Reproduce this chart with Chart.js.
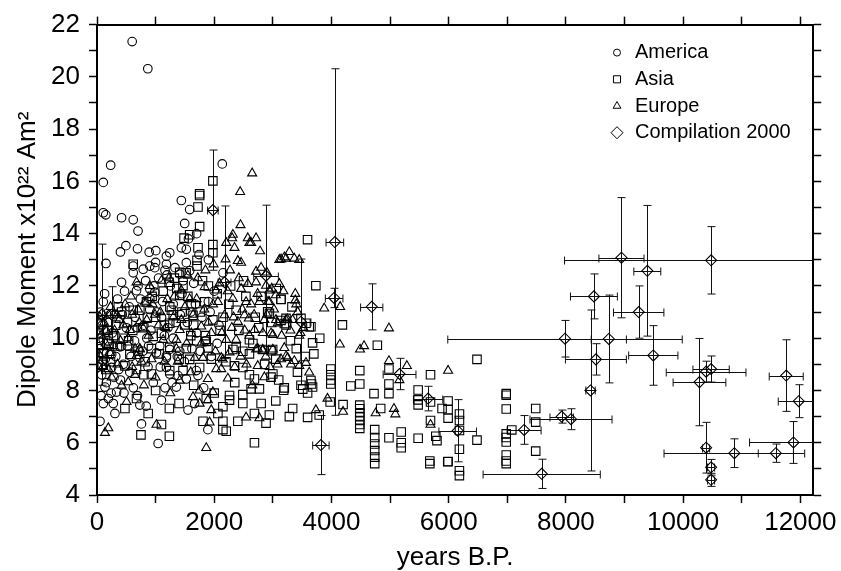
<!DOCTYPE html>
<html lang="en">
<head>
<meta charset="UTF-8">
<title>Dipole Moment</title>
<script src="https://cdn.jsdelivr.net/npm/chart.js"></script>
<style>
  body { margin: 0; background: #fff; }
  #wrap { width: 841px; height: 571px; }
</style>
</head>
<body>
<div id="wrap"><canvas id="chart"></canvas></div>
<script>
// values: [years B.P., dipole moment]
const america = [
  [600,21.35],[867,20.31],[233,16.62],[107,15.96],[2137,16.67],
  [107,14.8],[150,14.72],[419,14.61],[618,14.53],[1439,15.27],[1581,14.92],[1496,14.39],
  [493,13.54],[691,13.42],[890,13.29],[1003,13.35],[1241,13.27],[1439,13.46],[1524,13.4],[1184,13.14],
  [153,12.86],[618,12.76],[788,12.64],[901,12.76],[986,12.7],[618,12.5],[1184,12.83],[1195,12.42],
  [1524,12.89],[1581,12.58],[1411,12.45],[419,12.14],[674,11.82],[901,11.88],[986,11.76],[901,11.51],
  [986,11.51],[107,11.39],[107,10.32],[107,9.94],[419,9.69],[221,9.38],[731,9.25],[1014,9.44],
  [1241,9.57],[1411,9.5],[1184,9.25],[391,9.67],[250,9.38],[1184,9.32],[108,9.13],[250,8.88],
  [1184,8.88],[1241,8.63],[1382,8.57],[1524,8.44],[1694,8.76],[1723,8.57],[136,8.13],[334,7.94],
  [193,7.69],[278,7.5],[108,7.5],[306,7.12],[731,7.44],[1099,7.63],[1354,8.13],[1553,7.25],
  [1666,7.5],[1892,6.5],[1043,5.97],[759,6.72],[51,6.82],[448,9.0],
  [60,11.0],[200,10.6],[300,10.9],[500,10.4],[650,10.8],[800,10.5],[900,11.1],[1100,10.8],
  [1300,11.3],[1450,11.7],[1600,11.0],[1700,10.2],[850,10.0],[1150,10.1],[1350,10.6],[1650,12.1],
  [1900,11.4],[1250,12.0],[1050,12.3],[700,12.0],[350,11.5],[550,11.2],[30,10.0],[80,8.6],
  [160,8.3],[240,7.9],[400,8.4],[580,9.3],[620,8.1],[960,8.3],[1080,8.9],[1490,9.1],
  [1760,9.5],[1820,8.1],[2000,11.8],[2050,9.8],[880,9.7],[1300,10.0],[400,13.3],[700,14.1],
  [1000,12.9],[1560,13.8],[1700,14.0],[1900,13.0],[2150,12.5],[1950,9.3],
  [40,9.6],[90,10.5],[130,11.7],[180,9.9],[260,10.2],[320,9.3],[370,8.8],[430,10.9],
  [470,11.8],[520,9.7],[560,8.7],[640,9.9],[690,10.4],[740,11.5],[780,9.5],[830,12.2],
  [870,8.9],[920,10.3],[970,12.0],[1020,11.0],[1070,9.7],[1120,11.4],[1160,12.6],[1210,10.4],
  [1280,8.3],[1330,12.7],[1370,9.3],[1420,10.9],[1470,12.2],[1540,10.6],[1620,9.6],[1680,11.3],
  [1740,13.2],[1790,10.8],[1850,9.9],[1930,11.0],[2080,10.5],[20,8.9],[70,7.8],[140,9.2],
  [290,8.5],[460,7.9],[690,7.8],[840,7.4],[1160,8.1]
];

const asia = [
  [1751,15.53],[1977,16.02],[1751,15.46],[1723,15.02],[1751,14.27],[1581,13.96],[1485,13.83],[1723,13.46],
  [618,12.83],[1706,12.98],[1706,12.76],[1230,12.14],[1411,12.52],[1977,13.58],[1977,13.27],[3140,11.48],
  [363,11.2],[731,11.07],[844,11.39],[1269,11.07],[1609,11.32],[1836,11.39],[1411,11.64],[1467,12.01],
  [618,11.07],[1241,11.2],[1638,10.88],[2374,11.07],[2912,11.01],[1496,10.51],[1241,10.57],[958,10.07],
  [1099,10.19],[1977,10.7],[2601,9.94],[2827,9.57],[2997,9.57],[107,9.44],[561,9.38],[1864,9.88],
  [2318,9.57],[2488,9.5],[1581,9.19],[3225,10.76],[3225,10.51],
  [108,9.4],[929,9.6],[1241,9.65],[1524,9.6],[1892,9.63],[2374,9.65],[2601,9.4],[2969,9.52],
  [476,8.94],[674,8.8],[929,8.63],[1241,8.76],[1467,8.76],[1751,8.88],[2346,8.94],[2488,8.88],
  [2686,8.44],[2771,8.06],[2629,8.06],[2488,7.84],[2261,7.81],[2261,7.63],[1864,7.69],[2148,7.38],
  [2063,7.12],[2488,7.5],[2969,8.51],[3185,8.01],[3282,7.0],[674,7.69],[476,7.31],[873,7.12],
  [1235,7.31],[1808,6.82],[2148,6.82],[2148,6.5],[2205,6.44],[2403,6.82],[2686,7.12],[2884,6.75],
  [1235,6.25],[2686,6.0],
  [3592,13.77],[3734,12.01],[3139,11.49],[3326,11.2],[2941,10.95],[3139,10.68],[3196,10.56],[3480,10.76],
  [3565,10.57],[3621,10.44],[3650,10.44],[3678,9.82],[3000,8.63],[3650,8.38],[3660,8.25],[3678,8.13],
  [3196,8.1],[3480,8.2],[3510,8.05],[3593,7.9],[3338,7.31],[3593,6.97],[3791,7.06],[2941,7.06],
  [4187,10.51],[4783,9.73],[3989,8.82],[3989,8.6],[3989,8.4],[3989,8.25],[4330,8.17],[4483,8.76],
  [4483,8.25],[3978,7.56],[4198,7.46],[4483,7.44],[4483,7.3],[4483,7.15],[4483,7.0],[4483,6.85],
  [4483,6.7],[4483,6.55],[4726,7.88],[4738,6.5],[4738,6.2],[4738,5.95],[4738,5.7],[4738,5.45],
  [4738,5.2],[4981,8.25],[4981,7.88],[4981,8.82],[4840,7.31],[4981,6.19],[5190,6.41],[5190,6.0],
  [5190,5.81],[5479,6.17],[5479,8.02],[5479,7.64],[5479,7.45],[5690,8.6],[5690,7.56],[5887,7.31],
  [6184,7.1],[6184,6.85],[6184,6.47],[5690,6.85],[5780,6.25],[5800,6.08],[5678,5.3],[5678,5.2],
  [5984,5.27],[6183,5.75],[6183,4.93],[6183,4.74],
  [5990,7.6],[5990,7.26],[5990,6.94],[6483,9.19],[6483,6.1],[5990,5.28],[6982,7.88],[6982,7.82],
  [6982,7.29],[6982,6.34],[6982,6.2],[6982,6.03],[6982,5.53],[6982,5.3],[6982,5.2],[7077,6.49],
  [7485,7.31],[7485,6.79],[7485,5.68],
  [60,10.6],[180,10.3],[280,10.1],[450,10.0],[350,9.7],[520,10.6],[780,10.4],[150,8.8],
  [230,9.1],[820,9.1],[1000,10.8],[1130,11.8],[1320,12.3],[1550,11.6],[1800,12.2],[1850,10.1],
  [2100,10.3],[2250,11.3],[2700,10.8],[2800,11.6],[2500,12.2],[3050,9.2],[3400,9.6],[1650,10.5],
  [1400,9.2],[1700,9.9],[2200,9.1],[2600,8.6],[3100,8.4],[3700,9.4],[2000,7.9],[1100,6.7],[750,6.3],
  [30,10.2],[90,9.0],[200,9.8],[320,10.5],[420,11.0],[540,9.9],[610,10.3],[700,9.5],
  [860,10.8],[940,11.6],[1060,9.4],[1150,10.5],[1300,10.9],[1360,11.9],[1450,11.0],[1520,12.5],
  [1600,10.1],[1760,11.0],[1900,12.0],[1950,9.2],[2050,11.7],[2150,10.8],[2280,12.0],[2420,10.3],
  [2540,11.6],[2660,9.8],[2760,10.4],[2860,9.0],[2980,10.6],[3060,11.9],[3300,9.9],[3420,8.7],
  [3550,9.3],[3800,10.0],[1400,7.5],[1650,8.2],[2350,8.3],[2800,7.5],[3050,7.6],[1000,8.0],[800,8.6]
];

const europe = [
  [2647,16.31],[2443,15.6],[2448,14.33],[2318,13.96],[2306,13.83],[2346,13.46],[2573,13.83],[2714,13.83],
  [2601,13.65],[2629,13.65],[2205,13.65],[2782,13.33],[2193,13.02],[2403,12.96],[2459,12.89],[1989,12.83],
  [2714,12.55],[2895,12.52],[3111,12.08],[3140,13.02],[3225,13.05],[1836,11.96],[2034,11.83],[2459,11.89],
  [2573,12.08],[2714,12.14],[2884,12.01],[2941,11.83],[2941,11.39],[2771,11.39],[2318,11.51],[674,12.14],
  [1439,11.83],[2063,11.39],[2544,11.39],[2176,10.88],[2516,10.88],[2590,10.76],[2403,10.63],[2686,10.32],
  [2856,10.7],[1779,10.45],[1609,10.19],[1411,10.32],[788,10.38],[561,10.32],[3083,10.57],[3225,10.7],
  [2969,10.19],[2205,9.94],[2374,9.94],[731,9.57],[2714,9.57],[2827,9.57],[1808,9.25],[2148,9.19],
  [3225,9.31],[1128,9.94],[1354,9.94],
  [193,6.56],[136,6.38],[1014,6.69],[1864,5.8],[1751,7.5],[1892,7.63],[1977,7.94],[1638,7.75],
  [1751,8.0],[2034,8.82],[2120,8.82],[2233,8.46],[1892,8.44],[1949,7.25],[2544,6.97],[2771,6.94],
  [1921,6.78],[2856,8.51],[2743,8.94],[3140,9.2],[533,8.32],[646,8.6],[193,8.82],[419,8.19],
  [504,7.56],[731,9.6],[674,9.32],[221,9.44],[2261,9.46],[2743,9.6],[2827,9.52],[2120,9.25],
  [1354,9.6],[1666,9.25],[1411,8.38],
  [3111,13.0],[3196,13.1],[3281,13.3],[3366,13.05],[3451,13.0],[2980,11.9],[3050,11.65],[3383,11.7],
  [3383,11.45],[3423,11.0],[3876,11.14],[4148,11.2],[3054,10.7],[3250,10.72],[3338,10.7],[3000,10.13],
  [3451,10.1],[3470,10.2],[3000,9.57],[3196,9.63],[3253,9.25],[3310,9.0],[3366,9.13],[3565,9.06],
  [3451,8.94],[3621,8.69],[3734,7.25],[4981,10.38],[4143,9.76],[4488,9.57],[4556,9.7],[3932,7.69],
  [4198,7.19],[4754,7.13],[5066,7.3],[5090,7.09],[4981,9.13],[5287,8.94],[5160,8.4],[5690,6.69],
  [5990,8.76],
  [50,10.8],[120,10.6],[200,10.9],[300,10.3],[380,10.7],[450,10.5],[600,10.9],[700,11.1],
  [850,10.7],[950,11.3],[1050,10.5],[1200,11.5],[1300,10.8],[1500,11.2],[1700,11.5],[1550,12.4],
  [1850,12.6],[1100,12.2],[900,12.0],[250,8.5],[350,9.0],[150,9.8],[600,8.9],[800,8.2],
  [1000,8.5],[1250,7.9],[1150,9.1],[1600,8.7],[1950,10.2],[2300,10.4],[2600,10.1],[2900,10.9],
  [2450,9.3],[2350,8.9],[2550,9.0],[2650,8.2],[2950,8.9],[3150,10.1],
  [30,9.4],[70,10.1],[100,8.9],[160,10.3],[230,11.2],[280,9.7],[340,10.9],[400,9.9],
  [480,11.3],[530,10.0],[580,11.6],[650,9.6],[720,10.6],[760,9.1],[820,11.4],[880,10.1],
  [930,9.2],[990,10.9],[1080,11.0],[1170,10.4],[1230,12.3],[1320,11.6],[1380,9.1],[1440,10.7],
  [1530,9.8],[1580,11.5],[1640,10.9],[1720,12.3],[1780,9.8],[1830,11.1],[1900,10.6],[1980,11.3],
  [2020,9.5],[2090,12.1],[2130,10.2],[2230,11.8],[2270,12.6],[2330,10.8],[2420,12.3],[2480,11.1],
  [2520,10.3],[2630,11.3],[2680,10.9],[2740,11.7],[2800,12.7],[2830,10.2],[2880,9.3],[2920,11.4],
  [3020,11.1],[3080,9.0],[3180,11.8],[3300,10.3],[3400,11.3],[3520,10.4]
];

// Compilation 2000 with error bars
const compX    = [80, 250, 1977, 2176, 2884, 3480, 4058, 4046, 4687, 3820, 5162, 5649, 6154, 7287, 7587, 7928, 8087, 7985, 8420, 8512, 8478, 8732, 8948, 10477, 9389, 9242, 9491, 10279, 10392, 10477, 10392, 10874, 11582, 11883, 10477, 10477, 11759, 11973];
const compY    = [10.9, 10.9, 14.9, 12.14, 12.39, 10.63, 13.68, 11.54, 11.2, 5.91, 8.63, 7.69, 6.46, 6.49, 4.81, 7.0, 6.9, 9.98, 8.0, 9.19, 11.6, 9.97, 13.08, 12.98, 12.58, 11.0, 9.34, 8.32, 8.72, 8.82, 5.81, 5.6, 5.6, 6.01, 5.06, 4.58, 8.57, 7.59];
const compYErr = [2.7, 1.07, 2.3, 2.92, 2.7, 2.4, 6.63, 0.37, 0.88, 1.13, 0.6, 0.47, 1.19, 0.55, 0.56, 0.25, 0.4, 0.7, 3.08, 0.6, 0.86, 1.68, 2.3, 1.29, 2.5, 1.0, 1.14, 1.67, 0.4, 0.5, 0.97, 0.55, 0.35, 0.8, 0.3, 0.25, 1.37, 0.63];
const compXErr = [80, 220, 90, 110, 210, 170, 150, 150, 190, 140, 280, 250, 320, 290, 1000, 200, 700, 2000, 80, 520, 400, 300, 385, 2500, 230, 430, 420, 450, 680, 310, 60, 1200, 300, 750, 60, 60, 290, 350];

const seriesLabels = ['America', 'Asia', 'Europe', 'Compilation 2000'];
const xTickValues = [0, 1000, 2000, 3000, 4000, 5000, 6000, 7000, 8000, 9000, 10000, 11000, 12000];
const yTickValues = [4, 5, 6, 7, 8, 9, 10, 11, 12, 13, 14, 15, 16, 17, 18, 19, 20, 21, 22];

const FONT = '"Liberation Sans", Arial, Helvetica, sans-serif';
const toPts = arr => arr.map(p => ({x: p[0], y: p[1]}));

// error bars for the compilation series, drawn through the scales
const errorBars = {
  id: 'errorBars',
  beforeDatasetsDraw(chart) {
    const {ctx, chartArea: a, scales: {x, y}} = chart;
    const cap = 4;
    ctx.save();
    ctx.beginPath();
    ctx.rect(a.left, a.top, a.right - a.left, a.bottom - a.top);
    ctx.clip();
    ctx.strokeStyle = '#111';
    ctx.lineWidth = 1;
    ctx.beginPath();
    compX.forEach((cx, i) => {
      const px = Math.round(x.getPixelForValue(cx)) + 0.5;
      const py = Math.round(y.getPixelForValue(compY[i])) + 0.5;
      const x0 = x.getPixelForValue(cx - compXErr[i]), x1 = x.getPixelForValue(cx + compXErr[i]);
      const y0 = y.getPixelForValue(compY[i] + compYErr[i]), y1 = y.getPixelForValue(compY[i] - compYErr[i]);
      ctx.moveTo(x0, py); ctx.lineTo(x1, py);
      ctx.moveTo(x0, py - cap); ctx.lineTo(x0, py + cap);
      ctx.moveTo(x1, py - cap); ctx.lineTo(x1, py + cap);
      ctx.moveTo(px, y0); ctx.lineTo(px, y1);
      ctx.moveTo(px - cap, y0); ctx.lineTo(px + cap, y0);
      ctx.moveTo(px - cap, y1); ctx.lineTo(px + cap, y1);
    });
    ctx.stroke();
    ctx.restore();
  }
};

// legend inside the plot, top right
const legendRadius = [3.5, 5, 4.5, 6];
const legendBox = {
  id: 'legendBox',
  afterDraw(chart) {
    const {ctx, chartArea: a} = chart;
    ctx.save();
    chart.data.datasets.forEach((ds, i) => {
      const sx = a.left + 520, sy = a.top + 28 + i * 26.7;
      ctx.strokeStyle = '#000';
      ctx.fillStyle = 'rgba(0,0,0,0)';
      ctx.lineWidth = 1;
      Chart.helpers.drawPoint(ctx, {pointStyle: ds.pointStyle, radius: legendRadius[i], borderWidth: 1, rotation: 0}, sx, sy);
      ctx.fillStyle = '#000';
      ctx.font = '20px ' + FONT;
      ctx.textBaseline = 'middle';
      ctx.textAlign = 'left';
      ctx.fillText(ds.label, sx + 18, sy);
    });
    ctx.restore();
  }
};

const pointDefaults = {
  backgroundColor: 'rgba(0,0,0,0)',
  borderColor: '#000',
  pointBorderWidth: 1.1,
  showLine: false
};

const axisBase = {
  type: 'linear',
  border: {display: true, color: '#000', width: 2},
  grid: {drawOnChartArea: false, drawTicks: true, tickLength: 8, tickColor: '#000', tickWidth: 1.5}
};
const setXTicks = s => { s.ticks = xTickValues.map(v => ({value: v})); };
const setYTicks = s => { s.ticks = yTickValues.map(v => ({value: v})); };

new Chart(document.getElementById('chart'), {
  type: 'scatter',
  data: {
    datasets: [
      Object.assign({label: seriesLabels[0], data: toPts(america), pointStyle: 'circle', pointRadius: 4.3, pointHoverRadius: 4.3}, pointDefaults),
      Object.assign({label: seriesLabels[1], data: toPts(asia), pointStyle: 'rect', pointRadius: 6, pointHoverRadius: 6}, pointDefaults),
      Object.assign({label: seriesLabels[2], data: toPts(europe), pointStyle: 'triangle', pointRadius: 5.2, pointHoverRadius: 5.2}, pointDefaults),
      Object.assign({label: seriesLabels[3], data: compX.map((v, i) => ({x: v, y: compY[i]})), pointStyle: 'rectRot', pointRadius: 5.5, pointHoverRadius: 5.5}, pointDefaults)
    ]
  },
  options: {
    responsive: true,
    maintainAspectRatio: false,
    animation: false,
    layout: {padding: 0},
    plugins: {legend: {display: false}, tooltip: {enabled: false}},
    scales: {
      x: Object.assign({}, axisBase, {
        position: 'bottom', min: 0, max: 12220,
        afterBuildTicks: setXTicks,
        ticks: {autoSkip: false, maxRotation: 0, padding: 4,
          color: '#000', font: {family: FONT, size: 26},
          callback: v => (v % 2000 === 0 ? String(v) : '')},
        title: {display: true, text: 'years B.P.', color: '#000', font: {family: FONT, size: 26, lineHeight: 1.0}, padding: {top: 0, bottom: 0}},
        afterFit: s => { s.height = 76; }
      }),
      x2: Object.assign({}, axisBase, {
        position: 'top', min: 0, max: 12220,
        afterBuildTicks: setXTicks,
        ticks: {display: false, autoSkip: false},
        afterFit: s => { s.height = 16; }
      }),
      y: Object.assign({}, axisBase, {
        position: 'left', min: 4, max: 22,
        afterBuildTicks: setYTicks,
        ticks: {autoSkip: false, padding: 9,
          color: '#000', font: {family: FONT, size: 26},
          callback: v => (v % 2 === 0 ? String(v) : '')},
        title: {display: true, text: 'Dipole Moment x10²² Am²', color: '#000', font: {family: FONT, size: 26, lineHeight: 1.0}, padding: {top: 15, bottom: 0}},
        afterFit: s => { s.width = 97; }
      }),
      y2: Object.assign({}, axisBase, {
        position: 'right', min: 4, max: 22,
        afterBuildTicks: setYTicks,
        ticks: {display: false, autoSkip: false},
        afterFit: s => { s.width = 25; }
      })
    }
  },
  plugins: [errorBars, legendBox]
});
</script>
</body>
</html>
